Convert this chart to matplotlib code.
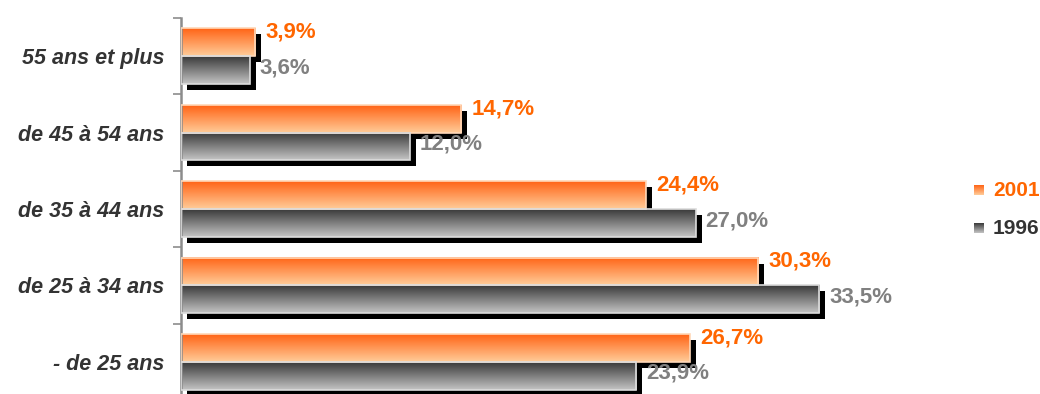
import matplotlib.pyplot as plt
import numpy as np
from matplotlib.patches import Rectangle
from matplotlib.transforms import ScaledTranslation

categories = ['55 ans et plus', 'de 45 à 54 ans', 'de 35 à 44 ans', 'de 25 à 34 ans', '- de 25 ans']
v2001 = [3.9, 14.7, 24.4, 30.3, 26.7]
v1996 = [3.6, 12.0, 27.0, 33.5, 23.9]
labels2001 = ['3,9%', '14,7%', '24,4%', '30,3%', '26,7%']
labels1996 = ['3,6%', '12,0%', '27,0%', '33,5%', '23,9%']

plt.rcParams['font.family'] = ['Liberation Sans', 'DejaVu Sans']

W, H, dpi = 1040, 394, 100
fig = plt.figure(figsize=(W / dpi, H / dpi), dpi=dpi)
ax = fig.add_axes([181 / W, (H - 400) / H, 667 / W, 382 / H])
ax.set_xlim(0, 35)
ax.set_ylim(4.5, -0.5)

orange = ['#ff6416', '#ffcc99']
grey = ['#3a3a3a', '#c4c4c4']


def grad(c_top, c_bot):
    a = np.array(plt.matplotlib.colors.to_rgb(c_top))
    b = np.array(plt.matplotlib.colors.to_rgb(c_bot))
    t = np.linspace(0, 1, 64)[:, None]
    return (a + (b - a) * t)[:, None, :]


shadow_off = ax.transData + ScaledTranslation(6 / dpi, -6 / dpi, fig.dpi_scale_trans)
h = 0.365

def draw_bar(v, y0, cols, edge):
    ax.add_patch(Rectangle((0, y0), v, h, facecolor='black', edgecolor='none',
                           transform=shadow_off, zorder=1))
    ax.imshow(grad(*cols), extent=[0, v, y0 + h, y0], aspect='auto',
              interpolation='bilinear', zorder=2)
    ax.add_patch(Rectangle((0, y0), v, h, facecolor='none', edgecolor=edge,
                           lw=1.2, zorder=3))

for i in range(len(categories)):
    draw_bar(v2001[i], i - h, orange, '#ffd8b8')
    draw_bar(v1996[i], i, grey, '#dcdcdc')

lab_off = ScaledTranslation(10 / dpi, 0, fig.dpi_scale_trans)
for i in range(len(categories)):
    ax.text(v2001[i], i - h + 0.05, labels2001[i], color='#ff6600', fontsize=16,
            fontweight='bold', ha='left', va='center',
            transform=ax.transData + lab_off, zorder=5)
    ax.text(v1996[i], i + h / 2 - 0.03, labels1996[i], color='#808080', fontsize=16,
            fontweight='bold', ha='left', va='center',
            transform=ax.transData + lab_off, zorder=5)

ax.set_xlim(0, 35)
ax.set_ylim(4.5, -0.5)
for s in ['top', 'right', 'bottom']:
    ax.spines[s].set_visible(False)
ax.spines['left'].set_color('#8c8c8c')
ax.spines['left'].set_linewidth(1.8)
ax.set_xticks([])
ax.set_yticks(np.arange(-0.5, 5, 1))
ax.set_yticklabels([])
ax.tick_params(axis='y', which='major', length=6, width=1.2, color='#8c8c8c')
ax.set_yticks(range(len(categories)), minor=True)
ax.set_yticklabels(categories, minor=True, fontsize=15.5, fontweight='bold',
                   fontstyle='italic', color='#333333')
ax.tick_params(axis='y', which='minor', length=0, pad=12)

# legend
for yc, cols, name, tc in [(190, orange, '2001', '#ff6600'), (228, grey, '1996', '#333333')]:
    lax = fig.add_axes([974 / W, (H - yc - 5) / H, 10 / W, 10 / H])
    lax.imshow(grad(*cols), aspect='auto', extent=[0, 1, 1, 0])
    lax.axis('off')
    fig.text(993 / W, (H - yc) / H, name, color=tc, fontsize=15,
             fontweight='bold', ha='left', va='center')

fig.savefig('out.png', dpi=dpi)
